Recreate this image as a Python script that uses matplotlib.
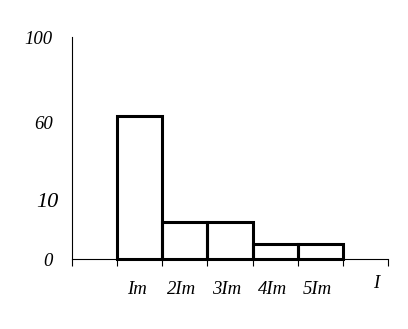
import numpy as np
import matplotlib
matplotlib.use("Agg")
import matplotlib.pyplot as plt
from matplotlib.transforms import ScaledTranslation

# данные гистограммы (значения по оси y нелинейные)
bar_labels = ["Im", "2Im", "3Im", "4Im", "5Im"]
bar_heights = [63, 6.5, 6.5, 2.6, 2.6]
ytick_values = [0, 10, 60, 100]
ytick_labels = ["0", "10", "60", "100"]
# положения подписей оси y на рисунке (в пикселях от нуля)
ytick_pos = [0, 57, 137, 223]

plt.rcParams["font.family"] = ["Liberation Serif", "DejaVu Serif"]
plt.rcParams["font.style"] = "italic"


def fwd(v):
    return np.interp(v, ytick_values, ytick_pos)


def inv(p):
    return np.interp(p, ytick_pos, ytick_values)


fig = plt.figure(figsize=(4.08, 3.29), dpi=100)
ax = fig.add_axes([72 / 408, 70 / 329, 316 / 408, 222 / 329])
ax.set_yscale("function", functions=(fwd, inv))

x = np.arange(len(bar_heights))
ax.bar(x, bar_heights, width=1, align="edge", fill=False,
       edgecolor="black", linewidth=2.2, clip_on=False)

ax.set_xlim(-1, 6)
ax.set_ylim(0, 100)

for s in ["top", "right"]:
    ax.spines[s].set_visible(False)
for s in ["left", "bottom"]:
    ax.spines[s].set_linewidth(0.8)

ax.set_xticks(np.arange(-1, 7))
ax.set_xticklabels([])
ax.tick_params(axis="x", which="major", direction="out", length=5, width=0.8)
ax.set_xticks(x + 0.5, minor=True)
ax.set_xticklabels(bar_labels, minor=True, fontsize=13.5)
ax.tick_params(axis="x", which="minor", length=0, pad=16)
for lab in ax.get_xticklabels(minor=True):
    lab.set_transform(lab.get_transform() + ScaledTranslation(-0.03, 0, fig.dpi_scale_trans))

ax.set_yticks(ytick_values)
ax.set_yticklabels(ytick_labels, fontsize=13.5)
ax.yaxis.set_minor_locator(matplotlib.ticker.NullLocator())
ax.tick_params(axis="y", length=0, pad=14)
# подпись "10" в оригинале крупнее и чуть правее
lab10 = ax.get_yticklabels()[1]
lab10.set_fontsize(16)
lab10.set_transform(lab10.get_transform() + ScaledTranslation(0.06, 0.02, fig.dpi_scale_trans))

fig.text(376 / 408, 1 - 284 / 329, "I", ha="center", va="center", fontsize=13.5)

fig.savefig("out.png", dpi=100)
